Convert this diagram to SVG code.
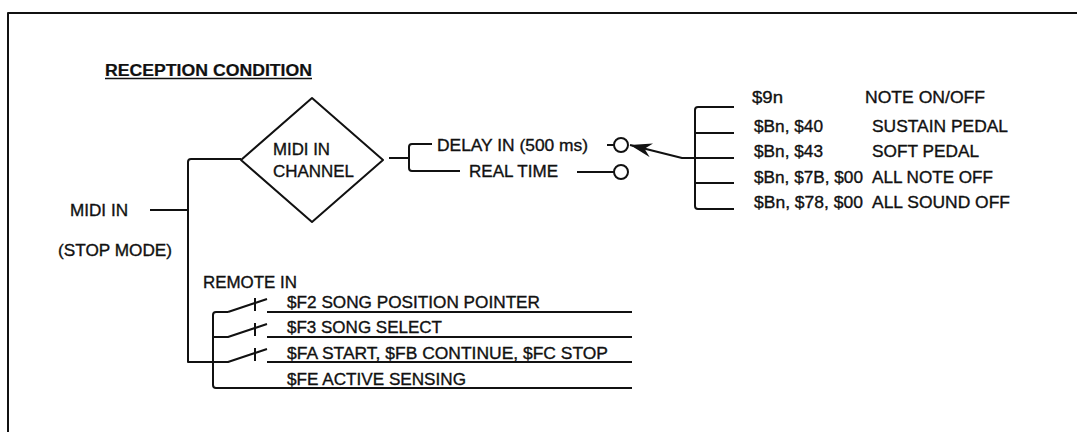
<svg xmlns="http://www.w3.org/2000/svg" width="1077" height="432" viewBox="0 0 1077 432">
<style>
text{font-family:"Liberation Sans",Arial,Helvetica,sans-serif;font-size:17px;fill:#111;stroke:#111;stroke-width:0.35}
.t{font-weight:bold;font-size:16px;stroke-width:0.2}
.ln{fill:none;stroke:#111;stroke-width:2;stroke-linejoin:round;stroke-linecap:butt}
.ul{stroke:#111;stroke-width:1.6}
</style>
<defs>
<marker id="ah" viewBox="0 0 22 14" refX="22" refY="7" markerWidth="22" markerHeight="14" markerUnits="userSpaceOnUse" orient="auto">
<path d="M0,0 L22,7 L0,14 L7,7 Z" fill="#111"/>
</marker>
</defs>
<rect width="1077" height="432" fill="#fff"/>
<g id="frame">
<path class="ln" d="M8,432 V13 H1077"/>
</g>
<g id="title">
<text class="t" x="105" y="76" textLength="207" lengthAdjust="spacingAndGlyphs">RECEPTION  CONDITION</text>
<line class="ul" x1="105" y1="78.5" x2="312" y2="78.5"/>
</g>
<g id="midi-in">
<text x="70" y="216" textLength="58" lengthAdjust="spacingAndGlyphs">MIDI IN</text>
<text x="58" y="256" textLength="114" lengthAdjust="spacingAndGlyphs">(STOP MODE)</text>
</g>
<g id="channel">
<polygon class="ln" points="241,160 312,98 383,160 312,222"/>
<text x="273" y="155" textLength="57" lengthAdjust="spacingAndGlyphs">MIDI IN</text>
<text x="273" y="177" textLength="81" lengthAdjust="spacingAndGlyphs">CHANNEL</text>
</g>
<g id="delay-in">
<text x="437" y="151" textLength="151" lengthAdjust="spacingAndGlyphs">DELAY IN (500 ms)</text>
<circle class="ln" cx="621" cy="145" r="7"/>
</g>
<g id="real-time">
<text x="469" y="177" textLength="89" lengthAdjust="spacingAndGlyphs">REAL TIME</text>
<circle class="ln" cx="621" cy="172" r="7"/>
</g>
<g id="messages">
<text x="752" y="103" textLength="31" lengthAdjust="spacingAndGlyphs">$9n</text>
<text x="865" y="103" textLength="120" lengthAdjust="spacingAndGlyphs">NOTE ON/OFF</text>
<text x="754" y="132" textLength="69" lengthAdjust="spacingAndGlyphs">$Bn, $40</text>
<text x="872" y="132" textLength="136" lengthAdjust="spacingAndGlyphs">SUSTAIN PEDAL</text>
<text x="754" y="157" textLength="69" lengthAdjust="spacingAndGlyphs">$Bn, $43</text>
<text x="872" y="157" textLength="107" lengthAdjust="spacingAndGlyphs">SOFT PEDAL</text>
<text x="754" y="183" textLength="109" lengthAdjust="spacingAndGlyphs">$Bn, $7B, $00</text>
<text x="872" y="183" textLength="121" lengthAdjust="spacingAndGlyphs">ALL NOTE OFF</text>
<text x="754" y="208" textLength="109" lengthAdjust="spacingAndGlyphs">$Bn, $78, $00</text>
<text x="872" y="208" textLength="138" lengthAdjust="spacingAndGlyphs">ALL SOUND OFF</text>
</g>
<g id="remote-in">
<text x="203" y="288" textLength="94" lengthAdjust="spacingAndGlyphs">REMOTE IN</text>
<text x="287" y="308" textLength="253" lengthAdjust="spacingAndGlyphs">$F2 SONG POSITION POINTER</text>
<text x="287" y="333" textLength="155" lengthAdjust="spacingAndGlyphs">$F3 SONG SELECT</text>
<text x="287" y="359" textLength="321" lengthAdjust="spacingAndGlyphs">$FA START, $FB CONTINUE, $FC STOP</text>
<text x="287" y="385" textLength="179" lengthAdjust="spacingAndGlyphs">$FE ACTIVE SENSING</text>
</g>
<g id="connectors">
<line class="ln" x1="150" y1="210" x2="188" y2="210"/>
<path class="ln" d="M241,159 H191 Q188,159 188,162 V362 H228 L267,349"/>
<path class="ln" d="M389,158 H409"/>
<path class="ln" d="M432,144 H412 Q409,144 409,147 V168 Q409,171 412,171 H460"/>
<line class="ln" x1="607" y1="145" x2="614" y2="145"/>
<line class="ln" x1="577" y1="172" x2="614" y2="172"/>
<path class="ln" d="M734,107 H698 Q695,107 695,110 V206 Q695,209 698,209 H734"/>
<line class="ln" x1="695" y1="133" x2="734" y2="133"/>
<line class="ln" x1="695" y1="158" x2="734" y2="158"/>
<line class="ln" x1="695" y1="183" x2="734" y2="183"/>
<path class="ln" d="M695,158 H682 L630,145" marker-end="url(#ah)"/>
<path class="ln" d="M228,312 H216 Q213,312 213,315 V385 Q213,388 216,388 H632"/>
<path class="ln" d="M213,337 H228 L267,324"/>
<path class="ln" d="M228,312 L267,299"/>
<line class="ln" x1="255" y1="298" x2="255" y2="311"/>
<line class="ln" x1="255" y1="323" x2="255" y2="336"/>
<line class="ln" x1="255" y1="348" x2="255" y2="361"/>
<line class="ln" x1="267" y1="312" x2="632" y2="312"/>
<line class="ln" x1="267" y1="337" x2="632" y2="337"/>
<line class="ln" x1="267" y1="362" x2="632" y2="362"/>
</g>
</svg>
